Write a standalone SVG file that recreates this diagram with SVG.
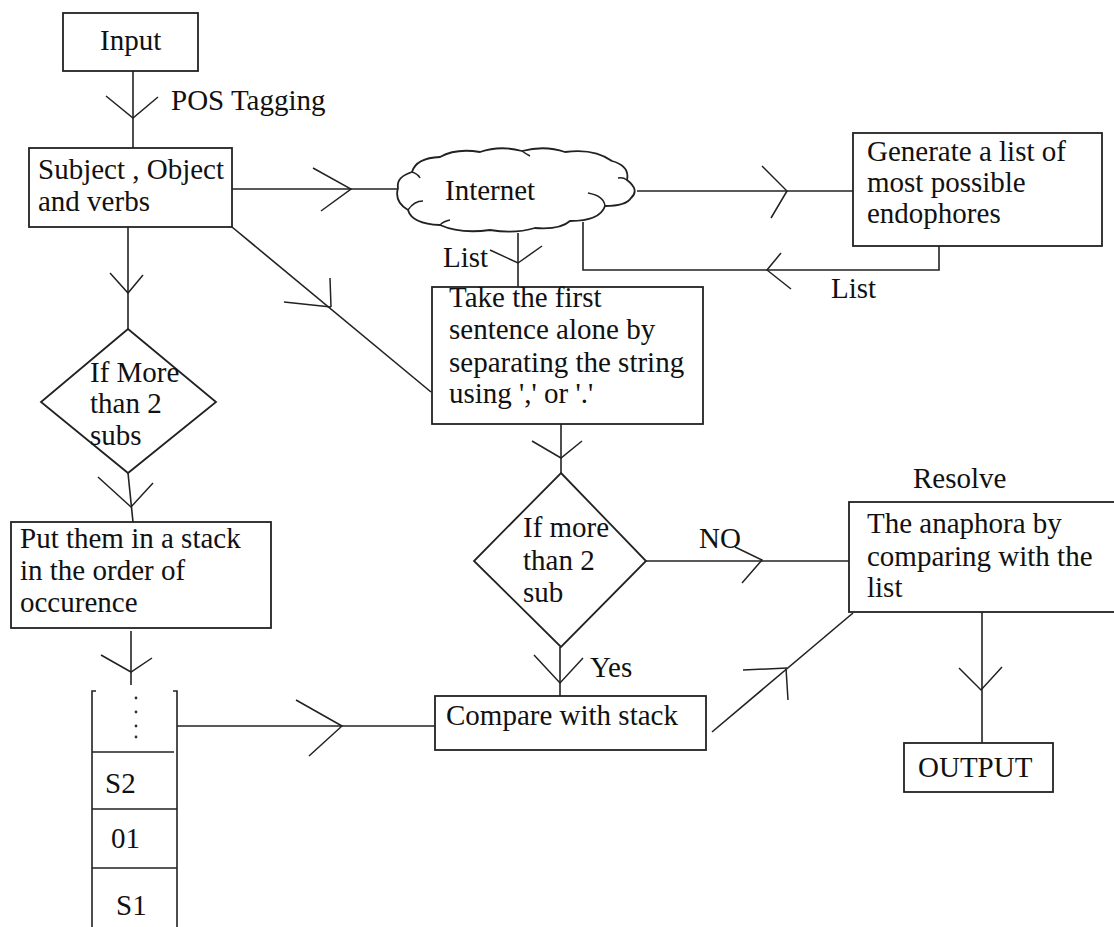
<svg xmlns="http://www.w3.org/2000/svg" width="1114" height="927" viewBox="0 0 1114 927">
<style>
.box{fill:#fff;stroke:#222;stroke-width:1.8}
.ln{fill:none;stroke:#222;stroke-width:1.6}
.ar{fill:none;stroke:#222;stroke-width:1.5}
.t{font-family:"Liberation Serif","Times New Roman",serif;font-size:29px;fill:#111}
</style>
<rect width="1114" height="927" fill="#fff"/>
<g id="connectors">
<path class="ln" d="M133 71V148"/><path class="ar" d="M106 96L133 118L158 97"/>
<path class="ln" d="M232 189H398"/><path class="ar" d="M313 168L351 189L321 211"/>
<path class="ln" d="M637 191H853"/><path class="ar" d="M762 166L787 191L771 218"/>
<path class="ln" d="M939 246V270H583V222"/><path class="ar" d="M781 253L767 270L791 289"/>
<path class="ln" d="M518 233V287"/><path class="ar" d="M490 250L518 263L542 246"/>
<path class="ln" d="M128 227V329"/><path class="ar" d="M110 273L128 293L143 275"/>
<path class="ln" d="M232 227L431 392"/><path class="ar" d="M284 302L331 307M330 278L331 307"/>
<path class="ln" d="M128 473L133 522"/><path class="ar" d="M98 477L131 507L153 483"/>
<path class="ln" d="M131 631V685"/><path class="ar" d="M101 655L131 672L152 658"/>
<path class="ln" d="M177 726H435"/><path class="ar" d="M296 700L342 726L309 756"/>
<path class="ln" d="M561 424V473"/><path class="ar" d="M532 441L561 458L582 441"/>
<path class="ln" d="M560 647V696"/><path class="ar" d="M534 655L560 683L583 658"/>
<path class="ln" d="M646 561H849"/><path class="ar" d="M735 547L762 560L742 583"/>
<path class="ln" d="M712 732L853 613"/><path class="ar" d="M743 670L787 668M788 700L786 668"/>
<path class="ln" d="M982 612V743"/><path class="ar" d="M959 668L981 690L1002 667"/>
</g>
<g id="input"><rect class="box" x="63" y="13" width="135" height="58"/><text class="t" x="100" y="50">Input</text></g>
<text class="t" x="171" y="110">POS Tagging</text>
<g id="subject"><rect class="box" x="29" y="148" width="203" height="79"/><text class="t" x="38" y="179">Subject , Object</text><text class="t" x="38" y="211">and verbs</text></g>
<g id="internet">
<path class="box" d="M398 188Q396 177 412 172Q416 158 440 157Q456 148 480 152Q500 145 522 151Q545 145 565 152Q594 148 612 161Q630 166 627 180Q640 190 631 198Q626 206 605 206Q600 221 570 221Q560 230 535 228Q515 234 490 230Q460 234 440 225Q412 224 408 210Q394 202 398 188Z"/>
<path class="ar" d="M412 172Q418 174 420 178M408 210Q414 201 423 201M440 225Q444 221 450 220M605 206Q604 196 588 193M627 180Q623 177 618 178M522 151Q526 154 530 156"/>
<text class="t" x="445" y="200">Internet</text></g>
<text class="t" x="443" y="267">List</text>
<g id="generate"><rect class="box" x="853" y="133" width="249" height="113"/><text class="t" x="867" y="161">Generate a list of</text><text class="t" x="867" y="192">most possible</text><text class="t" x="867" y="223">endophores</text></g>
<text class="t" x="831" y="298">List</text>
<g id="take"><rect class="box" x="432" y="287" width="271" height="137"/><text class="t" x="449" y="307">Take the first</text><text class="t" x="449" y="339">sentence alone by</text><text class="t" x="449" y="372">separating the string</text><text class="t" x="449" y="403">using ',' or '.'</text></g>
<g id="decision1"><polygon class="box" points="128,329 216,402 128,473 41,402"/><text class="t" x="90" y="382">If More</text><text class="t" x="90" y="413">than 2</text><text class="t" x="90" y="445">subs</text></g>
<g id="put"><rect class="box" x="11" y="522" width="260" height="106"/><text class="t" x="20" y="548">Put them in a stack</text><text class="t" x="20" y="580">in the order of</text><text class="t" x="20" y="612">occurence</text></g>
<g id="stack">
<path class="ln" d="M96 691H92V927M173 691H177V927M92 752H174M92 809H177M92 868H177"/>
<circle cx="136" cy="698" r="1.4" fill="#333"/><circle cx="136" cy="712" r="1.4" fill="#333"/><circle cx="136" cy="726" r="1.4" fill="#333"/><circle cx="136" cy="737" r="1.4" fill="#333"/>
<text class="t" x="105" y="793">S2</text><text class="t" x="111" y="848">01</text><text class="t" x="116" y="915">S1</text></g>
<g id="compare"><rect class="box" x="435" y="696" width="271" height="54"/><text class="t" x="446" y="725">Compare with stack</text></g>
<g id="decision2"><polygon class="box" points="561,473 646,561 561,647 474,561"/><text class="t" x="523" y="537">If more</text><text class="t" x="523" y="570">than 2</text><text class="t" x="523" y="602">sub</text></g>
<text class="t" x="699" y="548">NO</text>
<text class="t" x="590" y="677">Yes</text>
<text class="t" x="913" y="488">Resolve</text>
<g id="resolve"><rect class="box" x="849" y="502" width="270" height="110"/><text class="t" x="867" y="533">The anaphora by</text><text class="t" x="867" y="566">comparing with the</text><text class="t" x="867" y="597">list</text></g>
<g id="output"><rect class="box" x="904" y="743" width="149" height="49"/><text class="t" x="918" y="777">OUTPUT</text></g>
</svg>
